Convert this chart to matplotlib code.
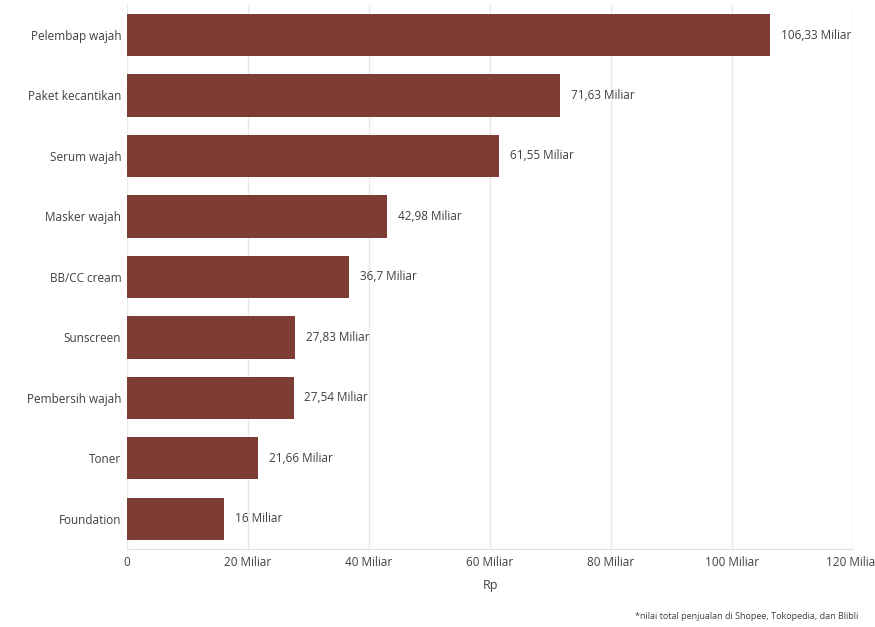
import matplotlib
matplotlib.use("Agg")
import matplotlib.pyplot as plt
from matplotlib.ticker import FuncFormatter

categories = ["Pelembap wajah", "Paket kecantikan", "Serum wajah", "Masker wajah",
              "BB/CC cream", "Sunscreen", "Pembersih wajah", "Toner", "Foundation"]
values = [106.33, 71.63, 61.55, 42.98, 36.7, 27.83, 27.54, 21.66, 16]
xticks = [0, 20, 40, 60, 80, 100, 120]

plt.rcParams['font.family'] = ['Open Sans', 'DejaVu Sans']
txt = '#404040'

fig = plt.figure(figsize=(8.75, 6.27), dpi=100)
ax = fig.add_axes([0.145, 0.1244, 0.83, 0.868])

ypos = list(range(len(categories)))
ax.barh(ypos, values, height=0.7, color='#7d3d35', zorder=3)
ax.set_ylim(len(categories) - 0.5, -0.5)
ax.set_xlim(0, 120)
ax.set_yticks(ypos)
ax.set_yticklabels(categories, fontsize=8.5, color=txt)
ax.set_xticks(xticks)

def fmt(v, pos):
    return "0" if v == 0 else f"{int(v)} Miliar"
ax.xaxis.set_major_formatter(FuncFormatter(fmt))
ax.tick_params(axis='x', labelsize=8.5, colors=txt, length=0, pad=5)
ax.tick_params(axis='y', length=0, pad=4)

ax.grid(axis='x', color='#e8e8e8', linewidth=1, zorder=0)
for s in ['top', 'right', 'left']:
    ax.spines[s].set_visible(False)
ax.spines['bottom'].set_color('#e0e0e0')

for y, v in zip(ypos, values):
    s = f"{v:g}".replace('.', ',') + " Miliar"
    ax.text(v + 1.8, y, s, va='center', ha='left', fontsize=8.5, color=txt, clip_on=False)

ax.set_xlabel("Rp", fontsize=9, color=txt, labelpad=7)
fig.text(0.981, 0.01, "*nilai total penjualan di Shopee, Tokopedia, dan Blibli",
         ha='right', va='bottom', fontsize=6.5, color=txt)

fig.savefig("out.png", dpi=100)
